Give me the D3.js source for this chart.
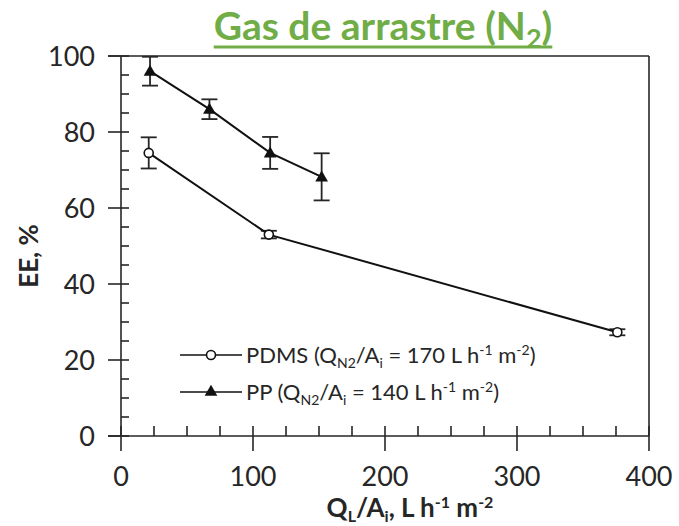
<!DOCTYPE html>
<html>
<head>
<meta charset="utf-8">
<script src="https://cdn.jsdelivr.net/npm/d3@7"></script>
<style>
  html, body { margin: 0; padding: 0; background: #fff; }
  svg { display: block; font-family: Lato, "Open Sans", sans-serif; }
</style>
</head>
<body>
<svg id="chart" width="679" height="526"></svg>
<script>
// Extraction efficiency vs. liquid flux, for two membranes
const pdmsX = [21, 112, 376];
const pdmsY = [74.5, 53, 27.3];
const pdmsErr = [4.1, 1.0, 0.8];

const ppX = [22, 67, 113, 152];
const ppY = [96, 86, 74.5, 68.2];
const ppErr = [3.8, 2.6, 4.2, 6.2];

const xTicks = [0, 100, 200, 300, 400];
const yTicks = [0, 20, 40, 60, 80, 100];

const svg = d3.select("#chart");
const ink = "#262626";
const green = "#70AD47";

const x = d3.scaleLinear().domain([0, 400]).range([121, 649]);
const y = d3.scaleLinear().domain([0, 100]).range([436, 56]);

// Title with a heavy underline
const title = svg.append("text")
  .attr("x", 383).attr("y", 40)
  .attr("text-anchor", "middle")
  .attr("fill", green)
  .attr("font-weight", "bold")
  .attr("font-size", 39);
title.append("tspan").text("Gas de arrastre (N");
title.append("tspan").attr("font-size", 27).attr("dy", 8).text("2");
title.append("tspan").attr("dy", -8).text(")");
const tb = title.node().getBBox();
svg.append("line")
  .attr("x1", tb.x).attr("x2", tb.x + tb.width)
  .attr("y1", 47).attr("y2", 47)
  .attr("stroke", green).attr("stroke-width", 3);

// Frame top and right
svg.append("line").attr("x1", 108).attr("x2", x(400)).attr("y1", y(100)).attr("y2", y(100))
  .attr("stroke", ink).attr("stroke-width", 1.6);
svg.append("line").attr("x1", x(400)).attr("x2", x(400)).attr("y1", y(100)).attr("y2", y(0))
  .attr("stroke", ink).attr("stroke-width", 1.6);

// Y axis
const gy = svg.append("g");
gy.append("line").attr("x1", x(0)).attr("x2", x(0)).attr("y1", y(0)).attr("y2", y(100))
  .attr("stroke", ink).attr("stroke-width", 1.6);
d3.range(0, 101, 5).forEach(v => {
  const major = v % 20 === 0;
  gy.append("line")
    .attr("x1", major ? x(0) - 13 : x(0)).attr("x2", x(0) + 8)
    .attr("y1", y(v)).attr("y2", y(v))
    .attr("stroke", ink).attr("stroke-width", 1.6);
});
gy.selectAll("text.tick").data(yTicks).join("text")
  .attr("class", "tick")
  .attr("x", 95).attr("y", d => y(d))
  .attr("dy", "0.36em")
  .attr("text-anchor", "end")
  .attr("font-size", 27)
  .attr("fill", ink)
  .text(d => d);

// X axis
const gx = svg.append("g");
gx.append("line").attr("x1", 108).attr("x2", x(400)).attr("y1", y(0)).attr("y2", y(0))
  .attr("stroke", ink).attr("stroke-width", 1.6);
d3.range(0, 401, 25).forEach(v => {
  const major = v % 100 === 0;
  gx.append("line")
    .attr("x1", x(v)).attr("x2", x(v))
    .attr("y1", y(0) - 10).attr("y2", major ? y(0) + 15 : y(0))
    .attr("stroke", ink).attr("stroke-width", 1.6);
});
gx.selectAll("text.tick").data(xTicks).join("text")
  .attr("class", "tick")
  .attr("x", d => x(d)).attr("y", 486)
  .attr("text-anchor", "middle")
  .attr("font-size", 27)
  .attr("fill", ink)
  .text(d => d);

// Axis titles
svg.append("text")
  .attr("transform", "translate(38,256) rotate(-90)")
  .attr("text-anchor", "middle")
  .attr("font-weight", "bold")
  .attr("font-size", 26)
  .attr("fill", ink)
  .text("EE, %");

const xt = svg.append("text")
  .attr("x", 410).attr("y", 517)
  .attr("text-anchor", "middle")
  .attr("font-weight", "bold")
  .attr("font-size", 26)
  .attr("fill", ink);
xt.append("tspan").text("Q");
xt.append("tspan").attr("font-size", 16).attr("dy", 5).text("L");
xt.append("tspan").attr("dy", -5).text("/A");
xt.append("tspan").attr("font-size", 16).attr("dy", 5).text("i");
xt.append("tspan").attr("dy", -5).text(", L h");
xt.append("tspan").attr("font-size", 16).attr("dy", -9).text("-1");
xt.append("tspan").attr("dy", 9).text(" m");
xt.append("tspan").attr("font-size", 16).attr("dy", -9).text("-2");

// Series
const lineGen = d3.line().x(d => x(d[0])).y(d => y(d[1]));
const pdms = pdmsX.map((v, i) => [v, pdmsY[i], pdmsErr[i]]);
const pp = ppX.map((v, i) => [v, ppY[i], ppErr[i]]);

function errorBars(data) {
  const g = svg.append("g").attr("stroke", ink).attr("stroke-width", 1.8);
  data.forEach(d => {
    g.append("line").attr("x1", x(d[0])).attr("x2", x(d[0]))
      .attr("y1", y(d[1] - d[2])).attr("y2", y(d[1] + d[2]));
    [d[1] - d[2], d[1] + d[2]].forEach(v => {
      g.append("line").attr("x1", x(d[0]) - 8).attr("x2", x(d[0]) + 8)
        .attr("y1", y(v)).attr("y2", y(v));
    });
  });
}
errorBars(pdms);
errorBars(pp);

svg.append("path").datum(pdms).attr("d", lineGen)
  .attr("fill", "none").attr("stroke", "#111").attr("stroke-width", 2);
svg.append("path").datum(pp).attr("d", lineGen)
  .attr("fill", "none").attr("stroke", "#111").attr("stroke-width", 2);

const tri = d3.symbol().type(d3.symbolTriangle).size(70);
svg.selectAll("circle.pdms").data(pdms).join("circle")
  .attr("class", "pdms")
  .attr("cx", d => x(d[0])).attr("cy", d => y(d[1])).attr("r", 4.5)
  .attr("fill", "#fff").attr("stroke", "#111").attr("stroke-width", 1.6);
svg.selectAll("path.pp").data(pp).join("path")
  .attr("class", "pp")
  .attr("transform", d => `translate(${x(d[0])},${y(d[1]) + 1})`)
  .attr("d", tri).attr("fill", "#111");

// Legend
const legend = [
  { y: 355, mark: "circle", label: ["PDMS (Q", "N2", "/A", "i", " = 170 L h", "-1", " m", "-2", ")"] },
  { y: 392, mark: "tri", label: ["PP (Q", "N2", "/A", "i", " = 140 L h", "-1", " m", "-2", ")"] }
];
legend.forEach(l => {
  svg.append("line").attr("x1", 180).attr("x2", 242).attr("y1", l.y).attr("y2", l.y)
    .attr("stroke", "#111").attr("stroke-width", 1.6);
  if (l.mark === "circle") {
    svg.append("circle").attr("cx", 211).attr("cy", l.y).attr("r", 4.5)
      .attr("fill", "#fff").attr("stroke", "#111").attr("stroke-width", 1.6);
  } else {
    svg.append("path").attr("transform", `translate(211,${l.y})`).attr("d", tri).attr("fill", "#111");
  }
  const t = svg.append("text").attr("x", 246).attr("y", l.y).attr("dy", "0.35em")
    .attr("font-size", 22).attr("fill", ink);
  const L = l.label;
  t.append("tspan").text(L[0]);
  t.append("tspan").attr("font-size", 14).attr("dy", 5).text(L[1]);
  t.append("tspan").attr("dy", -5).text(L[2]);
  t.append("tspan").attr("font-size", 14).attr("dy", 5).text(L[3]);
  t.append("tspan").attr("dy", -5).text(L[4]);
  t.append("tspan").attr("font-size", 14).attr("dy", -8).text(L[5]);
  t.append("tspan").attr("dy", 8).text(L[6]);
  t.append("tspan").attr("font-size", 14).attr("dy", -8).text(L[7]);
  t.append("tspan").attr("dy", 8).text(L[8]);
});
</script>
</body>
</html>
